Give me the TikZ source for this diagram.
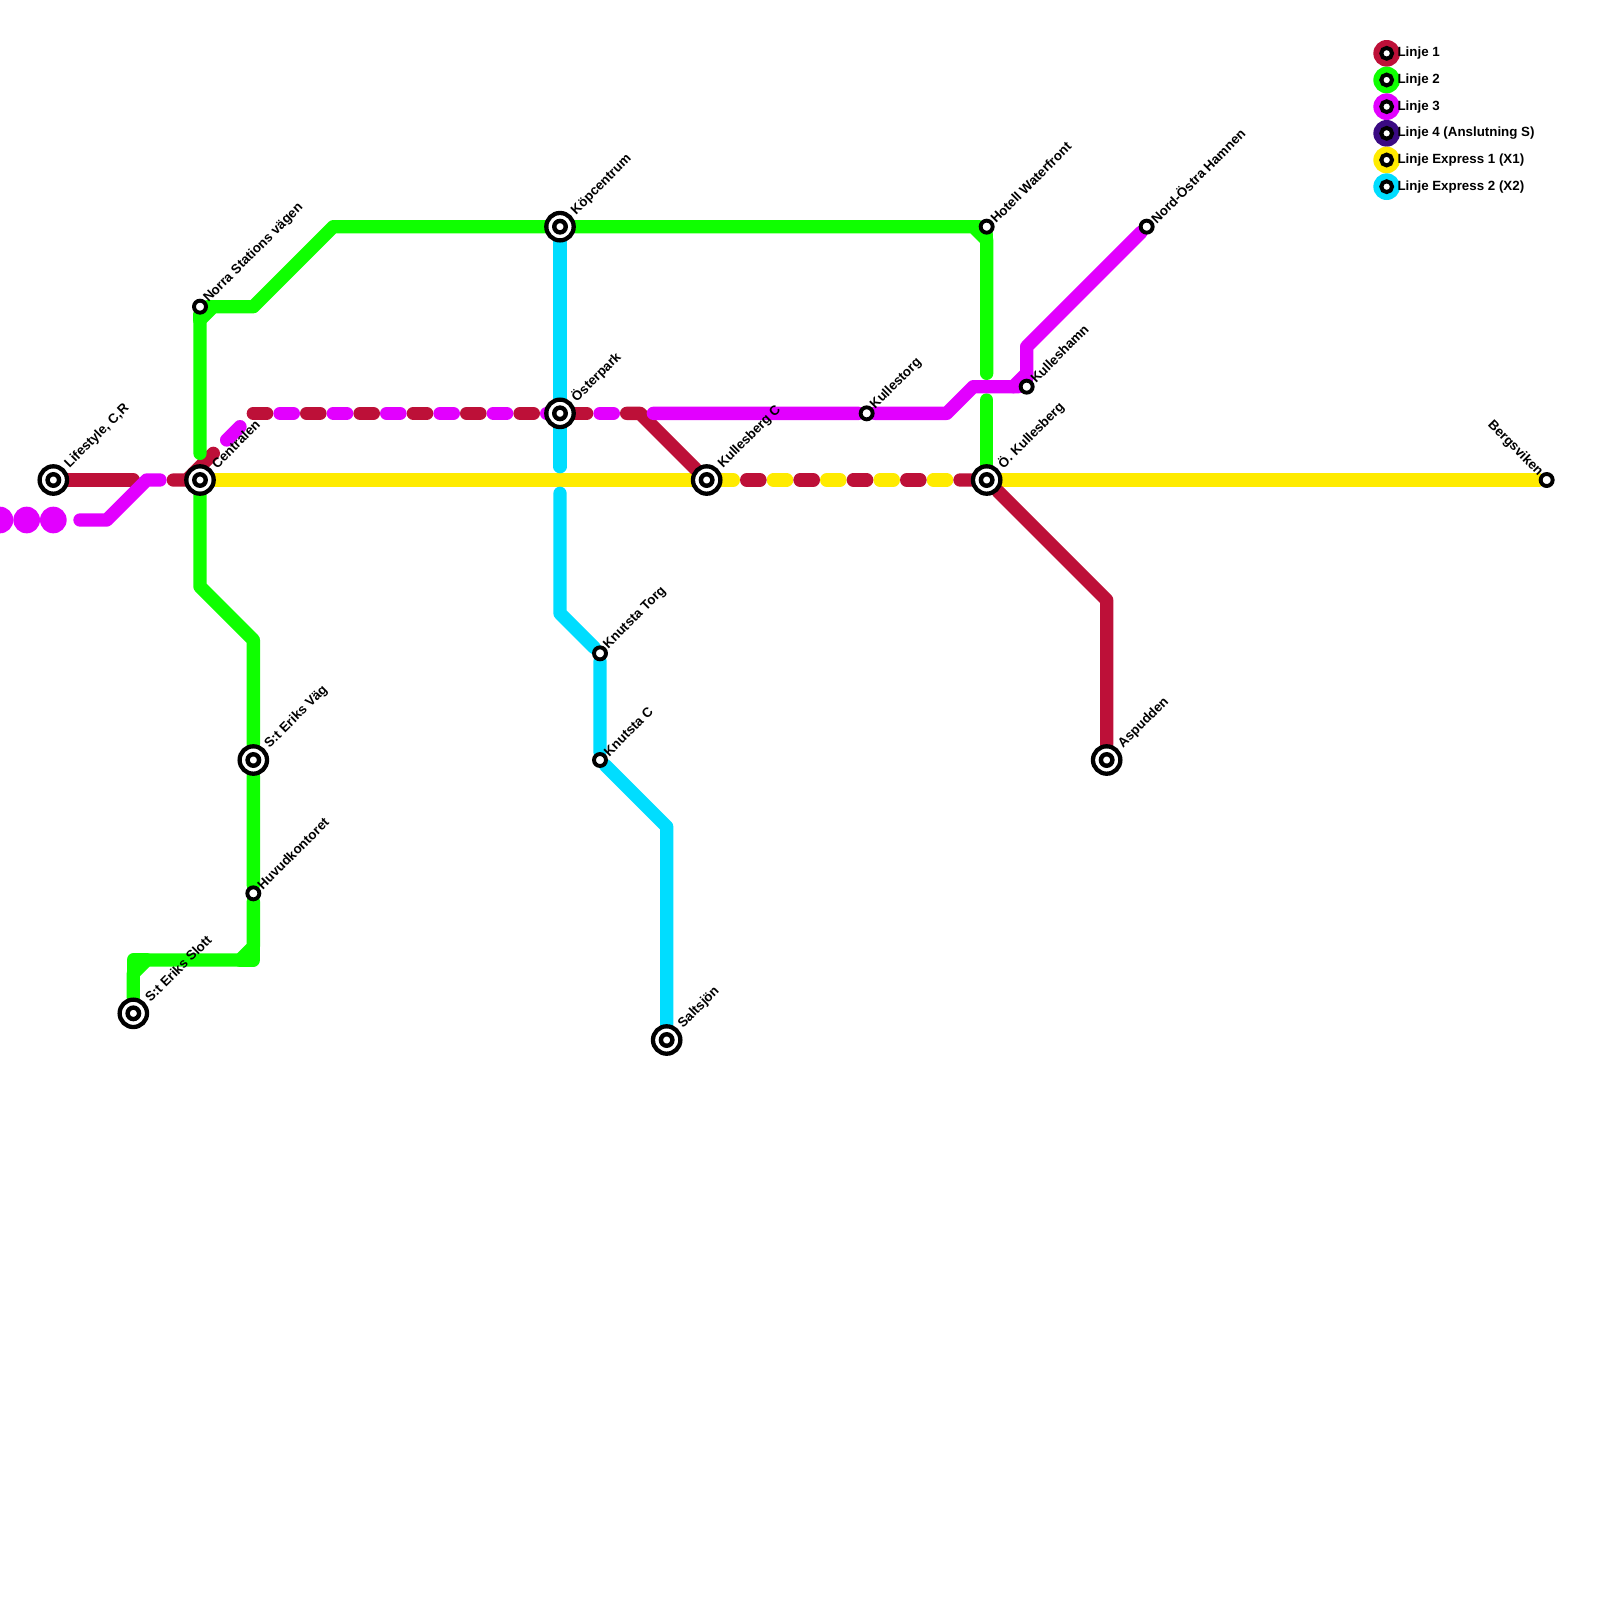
\documentclass[tikz,border=0pt]{standalone}
\usepackage{fontspec}
\setmainfont{Liberation Sans}
\usetikzlibrary{backgrounds}
\definecolor{linered}{HTML}{BD1038}
\definecolor{linegreen}{HTML}{0FFF00}
\definecolor{linemagenta}{HTML}{E200FF}
\definecolor{linepurple}{HTML}{3A0A82}
\definecolor{lineyellow}{HTML}{FFEB00}
\definecolor{linecyan}{HTML}{00DDFF}
\tikzset{
	route/.style={line width=13.33pt, line cap=round, line join=round},
	bigstop/.style={circle, draw=black, fill=white, line width=4.3pt, inner sep=0pt, minimum size=27.4pt},
	bigcore/.style={circle, draw=black, fill=white, line width=4.4pt, inner sep=0pt, minimum size=11.5pt},
	smallstop/.style={circle, draw=black, fill=white, line width=3.9pt, inner sep=0pt, minimum size=12pt},
	legendstop/.style={circle, draw=black, fill=white, line width=4pt, inner sep=0pt, minimum size=10.8pt},
	stoplabel/.style={font=\fontsize{13.33}{16}\selectfont\bfseries, inner sep=0pt, rotate=45, anchor=west},
	legendtext/.style={font=\fontsize{13.33}{16}\selectfont\bfseries, inner sep=0pt, anchor=west},
	legenddot/.style={circle, inner sep=0pt, minimum size=26.67pt},
}
\begin{document}
\begin{tikzpicture}[x=13.3333pt, y=-13.3333pt]
	\useasboundingbox (0,0) rectangle (120,120);
	% interchange stations
	\foreach \nm/\x/\y/\txt in {lifestyle/4/36/{Lifestyle, C,R}, centralen/15/36/Centralen, kopcentrum/42/17/Köpcentrum, osterpark/42/31/Österpark, kullesbergc/53/36/Kullesberg C, okullesberg/74/36/Ö. Kullesberg, aspudden/83/57/Aspudden, eriksvag/19/57/S:t Eriks Väg, eriksslott/10/76/S:t Eriks Slott, saltsjon/50/78/Saltsjön}{
		\node[bigstop] (\nm) at (\x,\y) {};
		\node[bigcore] (\nm-core) at (\x,\y) {};
		\node[stoplabel, xshift=19.5pt] (\nm-label) at (\x,\y) {\txt};
	}
	% plain stations
	\foreach \nm/\x/\y/\txt in {norra/15/23/Norra Stations vägen, huvudkontoret/19/67/Huvudkontoret, knutstatorg/45/49/Knutsta Torg, knutstac/45/57/Knutsta C, kullestorg/65/31/Kullestorg, kulleshamn/77/29/Kulleshamn, hotell/74/17/Hotell Waterfront, nordostra/86/17/Nord-Östra Hamnen}{
		\node[smallstop] (\nm) at (\x,\y) {};
		\node[stoplabel, xshift=8.5pt] (\nm-label) at (\x,\y) {\txt};
	}
	\node[smallstop] (bergsviken) at (116,36) {};
	\node[stoplabel, rotate=-90, anchor=east, xshift=-8.5pt] (bergsviken-label) at (116,36) {Bergsviken};
	% legend
	\foreach \nm/\col/\y/\txt in {one/linered/4/Linje 1, two/linegreen/6/Linje 2, three/linemagenta/8/Linje 3, four/linepurple/10/Linje 4 (Anslutning S), xone/lineyellow/12/Linje Express 1 (X1), xtwo/linecyan/14/Linje Express 2 (X2)}{
		\node[legenddot, fill=\col] (legend-\nm) at (104,\y) {};
		\node[legendstop] (legendstop-\nm) at (104,\y) {};
		\node[legendtext] (legendtext-\nm) at (104.8,\y) {\txt};
	}
	\begin{scope}[on background layer]
		% yellow
		\draw[route, lineyellow] (centralen) -- (kullesbergc) -- (55,36);
		\foreach \x in {58,62,66,70}
			\draw[route, lineyellow] (\x,36) -- ({\x+1},36);
		\draw[route, lineyellow] (okullesberg) -- (bergsviken);
		% cyan
		\draw[route, linecyan] (kopcentrum) -- (42,35);
		\draw[route, linecyan] (42,37) -- (42,46) -- (knutstatorg) -- (knutstac) -- (50,62) -- (saltsjon);
		% red under green
		\draw[route, linered] (13,36) -- (14,36) -- (15,35) -- (16,34);
		% green
		\draw[route, linegreen] (15,34) -- (15,24) -- (16,23) -- (19,23) -- (25,17) -- (kopcentrum) -- (73,17) -- (74,18) -- (74,28);
		\draw[route, linegreen] (15,24) -- (norra) -- (16,23);
		\draw[route, linegreen] (73,17) -- (hotell) -- (74,18);
		\draw[route, linegreen] (74,30) -- (okullesberg);
		\draw[route, linegreen] (centralen) -- (15,44) -- (19,48) -- (eriksvag) -- (huvudkontoret) -- (19,71) -- (18,72) -- (11,72) -- (10,73) -- (eriksslott);
		\draw[route, linegreen] (19,71) -- (19,72) -- (18,72);
		\draw[route, linegreen] (11,72) -- (10,72) -- (10,73);
		% red
		\draw[route, linered] (lifestyle) -- (10,36);
		\foreach \x in {19,23,27,31,35,39}
			\draw[route, linered] (\x,31) -- ({\x+1},31);
		\draw[route, linered] (43,31) -- (44,31);
		\draw[route, linered] (47,31) -- (48,31) -- (kullesbergc);
		\foreach \x in {56,60,64,68}
			\draw[route, linered] (\x,36) -- ({\x+1},36);
		\draw[route, linered] (72,36) -- (okullesberg) -- (83,45) -- (aspudden);
		% magenta
		\foreach \x in {0,2,4}
			\fill[linemagenta] (\x,39) circle (13.33pt);
		\draw[route, linemagenta] (6,39) -- (8,39) -- (11,36) -- (12,36);
		\draw[route, linemagenta] (17,33) -- (18,32);
		\foreach \x in {21,25,29,33,37,41,45}
			\draw[route, linemagenta] (\x,31) -- ({\x+1},31);
		\draw[route, linemagenta] (49,31) -- (kullestorg) -- (71,31) -- (73,29) -- (kulleshamn) -- (77,26) -- (nordostra);
		\draw[route, linemagenta] (76,29) -- (77,28);
	\end{scope}
\end{tikzpicture}
\end{document}
